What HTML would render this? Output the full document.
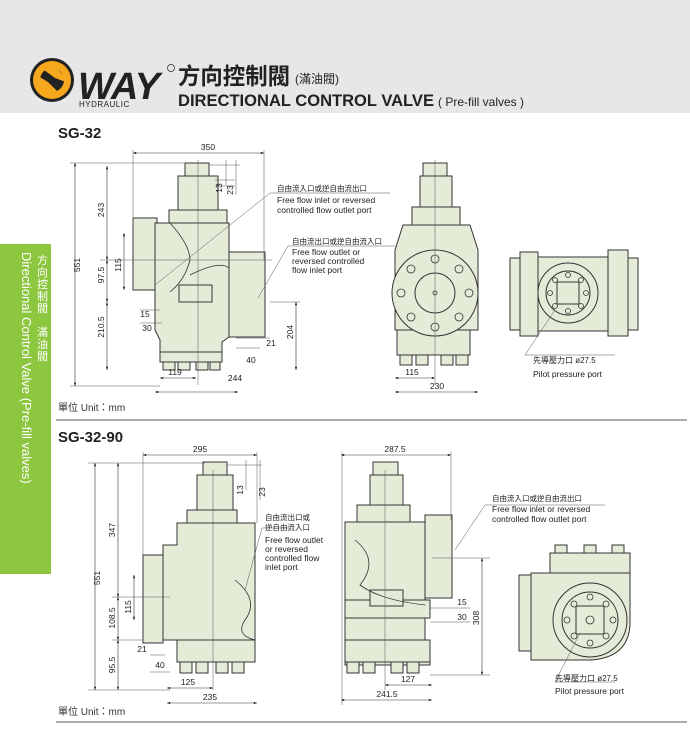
<!DOCTYPE html>
<html><head><meta charset="utf-8"><style>
html,body{margin:0;padding:0;background:#fff;}
svg{display:block;font-family:"Liberation Sans","Noto Sans CJK TC",sans-serif;}
</style></head><body>
<svg width="690" height="743" viewBox="0 0 690 743" xmlns="http://www.w3.org/2000/svg">
<defs>
<marker id="a" viewBox="0 0 8 6" refX="8" refY="3" markerWidth="6" markerHeight="4" orient="auto-start-reverse"><path d="M0,0L8,3L0,6z" fill="#222"/></marker>
</defs>
<!-- header -->
<rect x="0" y="0" width="690" height="113" fill="#e6e7e8"/>
<circle cx="52" cy="80" r="22" fill="#222"/>
<circle cx="52" cy="80" r="19" fill="#f5a81c"/>
<circle cx="52" cy="80" r="12" fill="#222"/>
<path d="M44,70 A12,12 0 0 1 62,74 L66,70 L66,82 L55,78 Z" fill="#f5a81c"/>
<path d="M58,92 A12,12 0 0 1 40,84 L36,88 L38,76 L48,82 Z" fill="#f5a81c"/>
<text x="78" y="99" font-size="38" font-weight="bold" font-style="italic" fill="#222" letter-spacing="-2" textLength="80">WAY</text>
<text x="79" y="107" font-size="8" fill="#222" letter-spacing="0.5">HYDRAULIC</text>
<circle cx="171" cy="68" r="3.5" fill="none" stroke="#222" stroke-width="0.7"/>
<text x="178" y="84" font-size="23" font-weight="bold" fill="#222" textLength="112" lengthAdjust="spacingAndGlyphs">方向控制閥</text>
<text x="295" y="83" font-size="12" fill="#222">(滿油閥)</text>
<text x="178" y="106" font-size="17" font-weight="bold" fill="#222" textLength="256" lengthAdjust="spacingAndGlyphs">DIRECTIONAL CONTROL VALVE</text>
<text x="438" y="106" font-size="12" fill="#222">( Pre-fill valves )</text>
<!-- sidebar -->
<rect x="0" y="244" width="51" height="330" fill="#8dc63f"/>
<g transform="translate(22,252) rotate(90)" fill="#fff" font-size="13">
<text x="0" y="0">Directional Control Valve (Pre-fill valves)</text>
</g>
<g fill="#fff" font-size="11">
<text x="37" y="264">方</text><text x="37" y="276">向</text><text x="37" y="288">控</text><text x="37" y="300">制</text><text x="37" y="312">閥</text>
<text x="37" y="336">滿</text><text x="37" y="348">油</text><text x="37" y="360">閥</text>
</g>
<text x="58" y="138" font-size="15" font-weight="bold" fill="#222">SG-32</text>
<text x="58" y="442" font-size="15" font-weight="bold" fill="#222">SG-32-90</text>
<text x="58" y="411" font-size="10" fill="#333">單位 Unit：mm</text>
<text x="58" y="715" font-size="10" fill="#333">單位 Unit：mm</text>
<line x1="56" y1="420" x2="687" y2="420" stroke="#555" stroke-width="1"/>
<line x1="56" y1="722" x2="687" y2="722" stroke="#555" stroke-width="1"/>

<g fill="#e4ecd8" stroke="#333" stroke-width="1">
<!-- drawing 1 -->
<rect x="185" y="163" width="24" height="14"/>
<rect x="178" y="176" width="40" height="35"/>
<rect x="169" y="210" width="58" height="13"/>
<rect x="133" y="218" width="24" height="72"/>
<rect x="229" y="252" width="36" height="85"/>
<path d="M155,223 H229 V337 L222,342 V352 H160 V340 L155,330 Z"/>
<rect x="160" y="352" width="62" height="10"/>
<rect x="163" y="362" width="12" height="8"/><rect x="178" y="362" width="12" height="8"/><rect x="196" y="362" width="12" height="8"/><rect x="210" y="362" width="10" height="8"/>
<rect x="179" y="285" width="33" height="17"/>
<!-- drawing 2 -->
<rect x="423" y="163" width="24" height="14"/>
<rect x="420" y="176" width="32" height="35"/>
<rect x="412" y="207" width="48" height="18"/>
<path d="M403,225 H470 L478,250 V330 H395 V250 Z"/>
<rect x="397" y="330" width="73" height="25"/>
<rect x="400" y="355" width="12" height="10"/><rect x="416" y="355" width="12" height="10"/><rect x="441" y="355" width="12" height="10"/><rect x="456" y="355" width="12" height="10"/>
<circle cx="435" cy="293" r="43"/>
<circle cx="435" cy="293" r="20"/>
<!-- drawing 3 -->
<rect x="510" y="258" width="10" height="72"/>
<rect x="520" y="252" width="18" height="84"/>
<rect x="538" y="257" width="70" height="74"/>
<rect x="608" y="250" width="20" height="86"/>
<rect x="628" y="258" width="10" height="72"/>
<circle cx="568" cy="293" r="30"/>
<circle cx="568" cy="293" r="22"/>
<rect x="557" y="282" width="22" height="22"/>
<!-- drawing 4 -->
<rect x="203" y="462" width="24" height="14"/>
<rect x="197" y="475" width="36" height="36"/>
<rect x="187" y="510" width="50" height="13"/>
<rect x="143" y="555" width="20" height="88"/>
<path d="M177,523 H255 V660 H177 V640 L163,640 V545 L177,545 Z"/>
<rect x="177" y="640" width="78" height="22"/>
<rect x="180" y="662" width="12" height="11"/><rect x="196" y="662" width="12" height="11"/><rect x="216" y="662" width="12" height="11"/><rect x="232" y="662" width="12" height="11"/>
<!-- drawing 5 -->
<rect x="373" y="462" width="25" height="14"/>
<rect x="370" y="475" width="33" height="31"/>
<rect x="357" y="505" width="53" height="17"/>
<rect x="425" y="515" width="27" height="83"/>
<path d="M345,522 H425 V640 H430 V665 H345 Z"/>
<rect x="345" y="600" width="85" height="18"/>
<rect x="345" y="640" width="85" height="22"/>
<rect x="347" y="662" width="12" height="11"/><rect x="363" y="662" width="12" height="11"/><rect x="391" y="662" width="12" height="11"/><rect x="407" y="662" width="12" height="11"/>
<rect x="370" y="590" width="33" height="16"/>
<!-- drawing 6 -->
<rect x="555" y="545" width="12" height="8"/><rect x="584" y="545" width="12" height="8"/><rect x="612" y="545" width="12" height="8"/>
<rect x="550" y="553" width="80" height="22"/>
<rect x="519" y="575" width="12" height="76"/>
<path d="M531,573 H630 V625 Q628,658 590,660 H531 Z"/>
<circle cx="590" cy="620" r="37"/>
<circle cx="590" cy="620" r="28"/>
<rect x="576" y="606" width="28" height="28"/>
</g>
<!-- bolt holes -->
<g fill="#e4ecd8" stroke="#333" stroke-width="0.8">
<circle cx="435" cy="259" r="4"/><circle cx="435" cy="327" r="4"/><circle cx="401" cy="293" r="4"/><circle cx="469" cy="293" r="4"/>
<circle cx="411" cy="269" r="4"/><circle cx="459" cy="269" r="4"/><circle cx="411" cy="317" r="4"/><circle cx="459" cy="317" r="4"/>
<circle cx="435" cy="293" r="2"/>
<circle cx="568" cy="275" r="2.5"/><circle cx="568" cy="311" r="2.5"/><circle cx="550" cy="293" r="2.5"/><circle cx="586" cy="293" r="2.5"/>
<circle cx="555" cy="280" r="2.5"/><circle cx="581" cy="280" r="2.5"/><circle cx="555" cy="306" r="2.5"/><circle cx="581" cy="306" r="2.5"/>
<circle cx="590" cy="597" r="3"/><circle cx="590" cy="643" r="3"/><circle cx="567" cy="620" r="3"/><circle cx="613" cy="620" r="3"/>
<circle cx="574" cy="604" r="3"/><circle cx="606" cy="604" r="3"/><circle cx="574" cy="636" r="3"/><circle cx="606" cy="636" r="3"/>
<circle cx="590" cy="620" r="4"/>
</g>
<!-- curves -->
<g fill="none" stroke="#333" stroke-width="0.8">
<path d="M170,223 Q190,245 190,260 Q185,280 170,292"/>
<path d="M190,275 Q220,260 229,268"/>
<path d="M235,580 Q260,600 245,620 Q235,635 255,640"/>
<path d="M355,540 Q380,560 360,585 Q380,600 425,605"/>
</g>
<!-- dimensions -->
<g stroke="#333" stroke-width="0.6" fill="none" marker-start="url(#a)" marker-end="url(#a)">
<line x1="133" y1="153" x2="264" y2="153"/>
<line x1="75" y1="163" x2="75" y2="386"/>
<line x1="107" y1="166" x2="107" y2="260"/>
<line x1="107" y1="260" x2="107" y2="302"/>
<line x1="107" y1="302" x2="107" y2="370"/>
<line x1="124" y1="233" x2="124" y2="290"/>
<line x1="296" y1="302" x2="296" y2="370"/>
<line x1="160" y1="378" x2="196" y2="378"/>
<line x1="155" y1="392" x2="238" y2="392"/>
<line x1="395" y1="378" x2="435" y2="378"/>
<line x1="395" y1="392" x2="478" y2="392"/>
<line x1="143" y1="455" x2="257" y2="455"/>
<line x1="95" y1="463" x2="95" y2="690"/>
<line x1="118" y1="463" x2="118" y2="597"/>
<line x1="118" y1="597" x2="118" y2="640"/>
<line x1="118" y1="640" x2="118" y2="690"/>
<line x1="134" y1="575" x2="134" y2="620"/>
<line x1="167" y1="688" x2="213" y2="688"/>
<line x1="167" y1="703" x2="257" y2="703"/>
<line x1="341" y1="455" x2="451" y2="455"/>
<line x1="482" y1="558" x2="482" y2="675"/>
<line x1="385" y1="685" x2="432" y2="685"/>
<line x1="341" y1="700" x2="432" y2="700"/>
</g>
<g stroke="#555" stroke-width="0.5">
<line x1="133" y1="150" x2="133" y2="225"/><line x1="264" y1="150" x2="264" y2="260"/>
<line x1="70" y1="163" x2="185" y2="163"/><line x1="70" y1="386" x2="160" y2="386"/>
<line x1="100" y1="260" x2="272" y2="260"/><line x1="270" y1="302" x2="300" y2="302"/>
<line x1="209" y1="165" x2="240" y2="165"/><line x1="215" y1="180" x2="235" y2="180"/><line x1="215" y1="186" x2="235" y2="186"/>
<line x1="226" y1="160" x2="226" y2="185"/><line x1="236" y1="160" x2="236" y2="195"/>
<line x1="140" y1="310" x2="160" y2="310"/><line x1="140" y1="323" x2="162" y2="323"/>
<line x1="236" y1="338" x2="270" y2="338"/><line x1="236" y1="348" x2="260" y2="348"/>
<line x1="198" y1="160" x2="198" y2="385"/><line x1="435" y1="160" x2="435" y2="385"/>
<line x1="143" y1="452" x2="143" y2="555"/><line x1="257" y1="452" x2="257" y2="523"/>
<line x1="88" y1="463" x2="205" y2="463"/><line x1="88" y1="690" x2="170" y2="690"/>
<line x1="112" y1="597" x2="170" y2="597"/><line x1="112" y1="640" x2="143" y2="640"/>
<line x1="227" y1="465" x2="262" y2="465"/><line x1="246" y1="460" x2="246" y2="490"/><line x1="260" y1="460" x2="260" y2="500"/>
<line x1="213" y1="470" x2="213" y2="690"/><line x1="342" y1="452" x2="342" y2="705"/><line x1="451" y1="452" x2="451" y2="520"/>
<line x1="432" y1="558" x2="490" y2="558"/><line x1="430" y1="675" x2="490" y2="675"/>
<line x1="430" y1="608" x2="470" y2="608"/><line x1="430" y1="622" x2="470" y2="622"/>
<line x1="385" y1="470" x2="385" y2="690"/>
<line x1="150" y1="655" x2="165" y2="655"/><line x1="150" y1="672" x2="170" y2="672"/>
</g>
<g font-size="8.5" fill="#222" text-anchor="middle">
<text x="208" y="150">350</text>
<text x="235" y="381">244</text><text x="175" y="375">119</text>
<text x="412" y="375">115</text><text x="437" y="389">230</text>
<text x="200" y="452">295</text><text x="395" y="452">287.5</text>
<text x="188" y="685">125</text><text x="210" y="700">235</text>
<text x="408" y="682">127</text><text x="387" y="697">241.5</text>
<text x="145" y="317">15</text><text x="147" y="331">30</text>
<text x="271" y="346">21</text><text x="251" y="363">40</text>
<text x="142" y="652">21</text><text x="160" y="668">40</text>
<text x="462" y="605">15</text><text x="462" y="620">30</text>
</g>
<g font-size="8.5" fill="#222" text-anchor="middle">
<text transform="translate(80,265) rotate(-90)">551</text>
<text transform="translate(104,210) rotate(-90)">243</text>
<text transform="translate(104,275) rotate(-90)">97.5</text>
<text transform="translate(121,265) rotate(-90)">115</text>
<text transform="translate(104,327) rotate(-90)">210.5</text>
<text transform="translate(293,332) rotate(-90)">204</text>
<text transform="translate(222,188) rotate(-90)">13</text>
<text transform="translate(233,190) rotate(-90)">23</text>
<text transform="translate(100,578) rotate(-90)">551</text>
<text transform="translate(115,530) rotate(-90)">347</text>
<text transform="translate(131,607) rotate(-90)">115</text>
<text transform="translate(115,618) rotate(-90)">108.5</text>
<text transform="translate(115,665) rotate(-90)">95.5</text>
<text transform="translate(243,490) rotate(-90)">13</text>
<text transform="translate(265,492) rotate(-90)">23</text>
<text transform="translate(479,618) rotate(-90)">308</text>
</g>
<!-- callouts -->
<g stroke="#555" stroke-width="0.5" fill="none">
<path d="M155,285 L270,193 H390"/>
<path d="M258,298 L288,246 H395"/>
<path d="M555,310 L525,355 H615"/>
<path d="M245,590 L262,528 H290"/>
<path d="M455,550 L485,505 H605"/>
<path d="M580,633 L555,682 H615"/>
</g>
<g font-size="8.5" fill="#222">
<text x="277" y="191" font-size="7.5">自由流入口或逆自由流出口</text>
<text x="277" y="203">Free flow inlet or reversed</text>
<text x="277" y="213">controlled flow outlet port</text>
<text x="292" y="244" font-size="7.5">自由流出口或逆自由流入口</text>
<text x="292" y="255">Free flow outlet or</text>
<text x="292" y="264">reversed controlled</text>
<text x="292" y="273">flow inlet port</text>
<text x="533" y="363" font-size="8">先導壓力口  ø27.5</text>
<text x="533" y="377">Pilot pressure port</text>
<text x="265" y="520" font-size="7.5">自由流出口或</text>
<text x="265" y="530" font-size="7.5">逆自由流入口</text>
<text x="265" y="543">Free flow outlet</text>
<text x="265" y="552">or reversed</text>
<text x="265" y="561">controlled flow</text>
<text x="265" y="570">inlet port</text>
<text x="492" y="501" font-size="7.5">自由流入口或逆自由流出口</text>
<text x="492" y="512">Free flow inlet or reversed</text>
<text x="492" y="522">controlled flow outlet port</text>
<text x="555" y="681" font-size="8">先導壓力口  ø27.5</text>
<text x="555" y="694">Pilot pressure port</text>
</g>
</svg>
</body></html>
